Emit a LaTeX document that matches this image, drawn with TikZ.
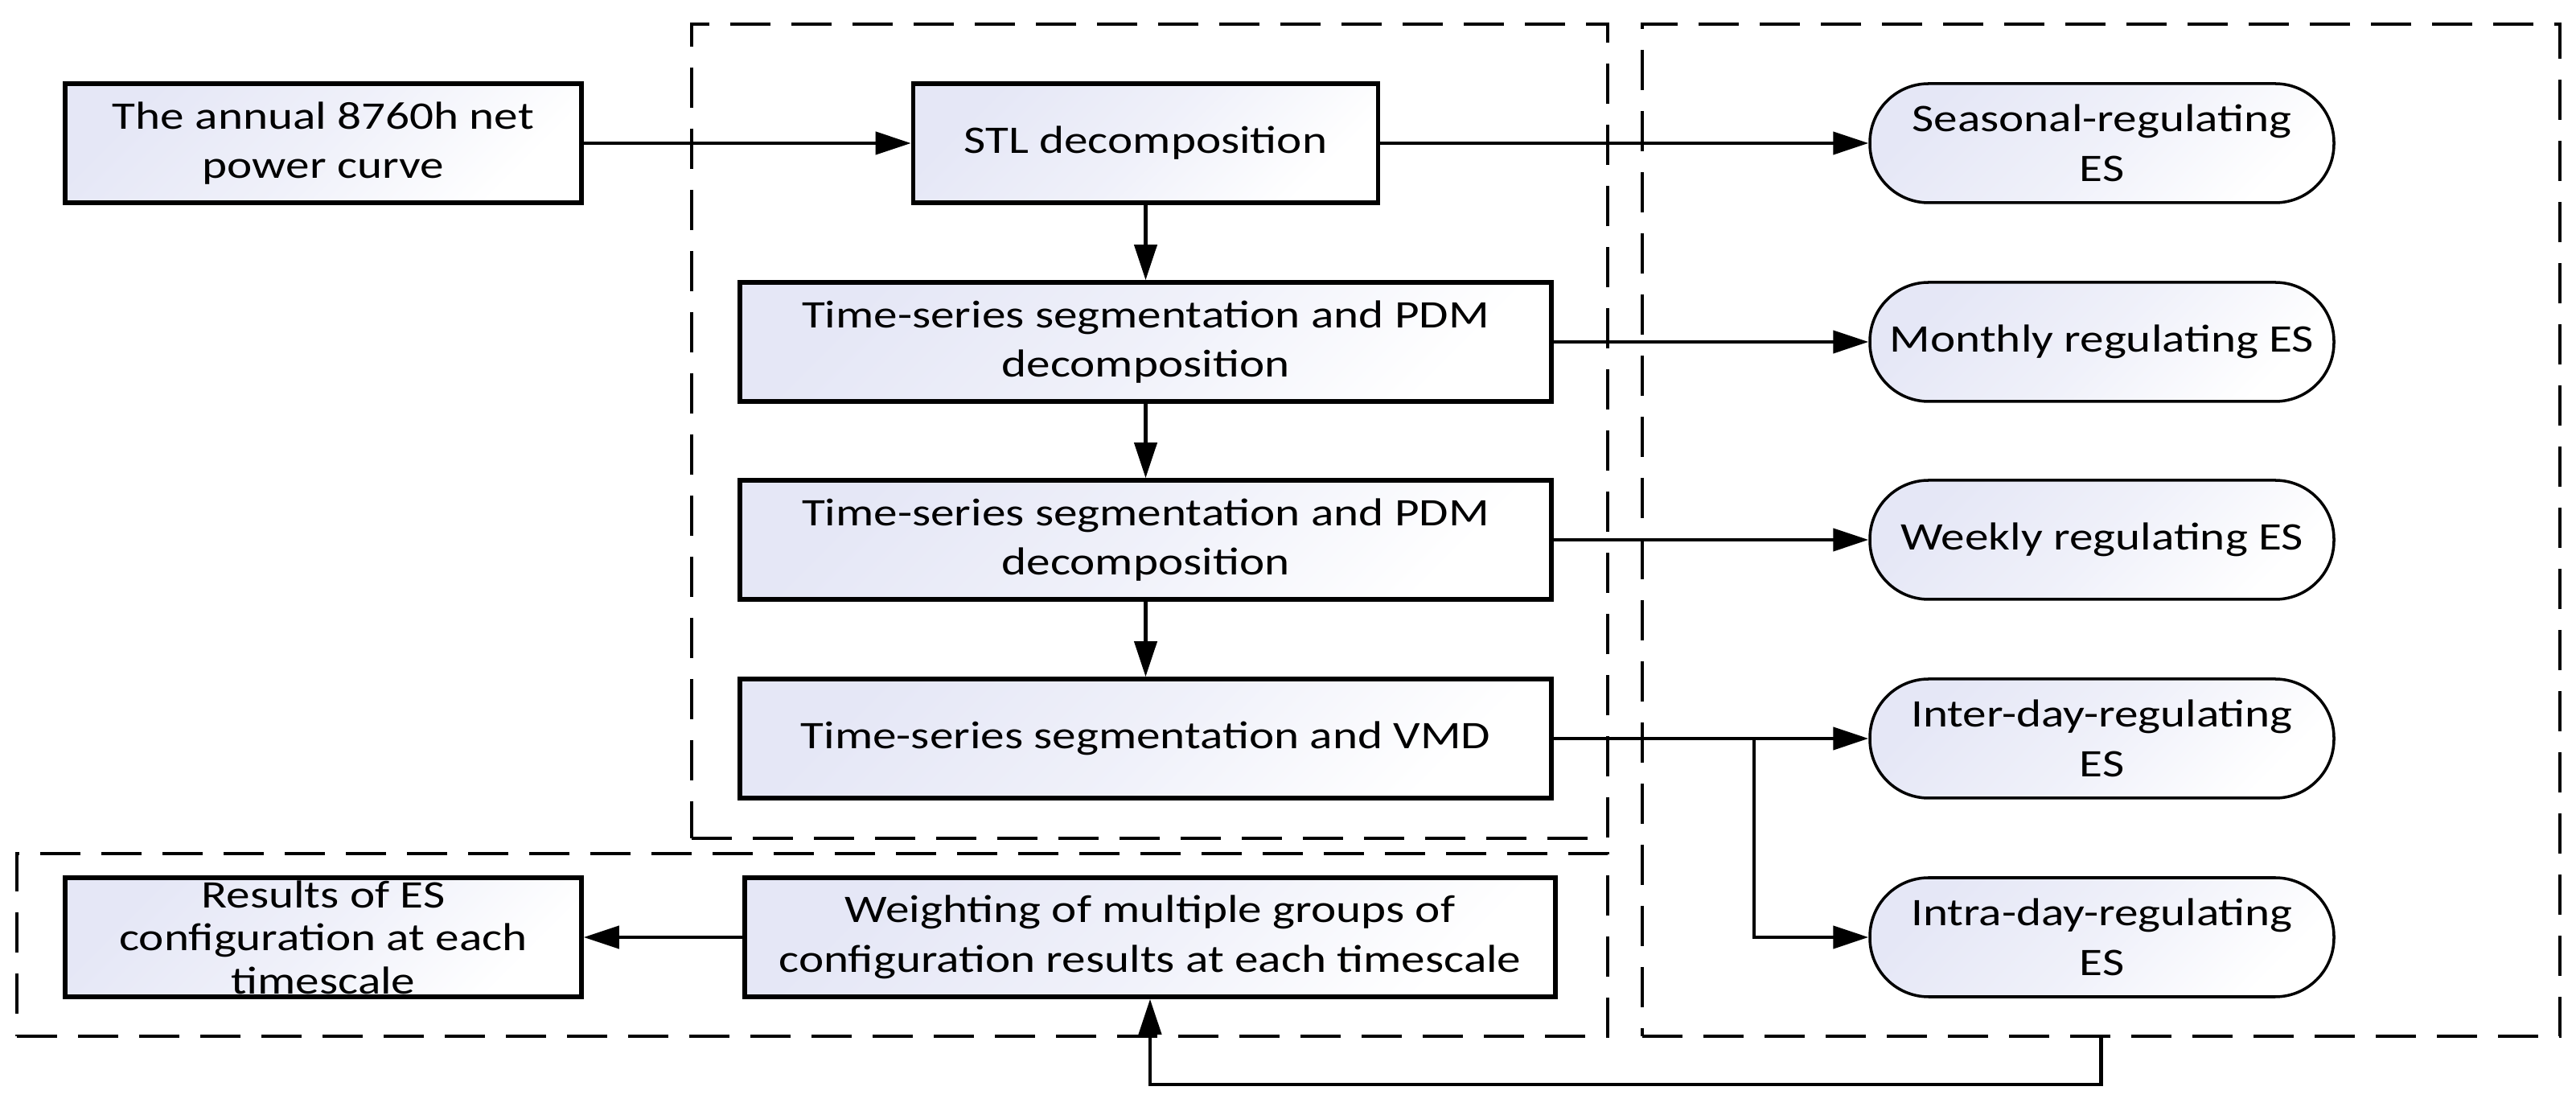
\documentclass[tikz,border=0pt]{standalone}
\usepackage{fontspec}
\setmainfont{Carlito}[FakeStretch=1.22]
\usepackage{tikz}
\usetikzlibrary{arrows.meta}
\definecolor{boxtint}{RGB}{229,231,246}
\tikzset{
  flowarrow/.style={-{Triangle[length=4.4mm, width=2.8mm]}, line width=1.2pt},
  stepbox/.style={draw, line width=1.6pt, top color=boxtint, bottom color=white, middle color=white!40!boxtint, shading angle=45, minimum height=1.48cm, inner sep=2pt, align=center},
  esnode/.style={draw, line width=1pt, rounded corners=0.73cm, top color=boxtint, bottom color=white, middle color=white!40!boxtint, shading angle=45, minimum width=5.77cm, minimum height=1.48cm, inner sep=2pt, align=center},
  groupframe/.style={draw, line width=1.2pt, dash pattern=on 0.5cm off 0.26cm, inner sep=0pt}
}

\begin{document}
\begin{tikzpicture}[every node/.style={font=\fontsize{13.8}{17.5}\selectfont}]
  \useasboundingbox (0,0) rectangle (32.03,13.71);
  \node[groupframe, minimum width=11.39cm, minimum height=10.12cm] (midframe) at (14.295,8.35) {};
  \node[groupframe, minimum width=11.41cm, minimum height=12.58cm] (esframe) at (26.125,7.12) {};
  \node[groupframe, minimum width=19.78cm, minimum height=2.27cm] (lowframe) at (10.10,1.965) {};
  \node[stepbox, minimum width=6.42cm] (netcurve) at (4.02,11.93) {The annual 8760h net\\power curve};
  \node[stepbox, minimum width=5.78cm] (stl) at (14.245,11.93) {STL decomposition};
  \node[stepbox, minimum width=10.09cm] (pdmmonth) at (14.245,9.46) {Time-series segmentation and PDM\\decomposition};
  \node[stepbox, minimum width=10.09cm] (pdmweek) at (14.245,7.00) {Time-series segmentation and PDM\\decomposition};
  \node[stepbox, minimum width=10.09cm] (vmd) at (14.245,4.53) {Time-series segmentation and VMD};
  \node[stepbox, minimum width=10.08cm] (weigh) at (14.30,2.06) {Weighting of multiple groups of\\configuration results at each timescale};
  \node[stepbox, minimum width=6.42cm, inner ysep=0pt, font=\fontsize{13.8}{15.2}\selectfont] (results) at (4.02,2.06) {Results of ES\\configuration at each\\timescale};
  \node[esnode] (seasonal) at (26.135,11.93) {Seasonal-regulating\\ES};
  \node[esnode] (monthly) at (26.135,9.46) {Monthly regulating ES};
  \node[esnode] (weekly) at (26.135,7.00) {Weekly regulating ES};
  \node[esnode] (interday) at (26.135,4.53) {Inter-day-regulating\\ES};
  \node[esnode] (intraday) at (26.135,2.06) {Intra-day-regulating\\ES};
  \coordinate (split) at (21.81,4.53);
  \draw[flowarrow] (netcurve) -- (stl);
  \draw[flowarrow] (stl) -- (pdmmonth);
  \draw[flowarrow] (pdmmonth) -- (pdmweek);
  \draw[flowarrow] (pdmweek) -- (vmd);
  \draw[flowarrow] (stl) -- (seasonal);
  \draw[flowarrow] (pdmmonth) -- (monthly);
  \draw[flowarrow] (pdmweek) -- (weekly);
  \draw[flowarrow] (vmd) -- (interday);
  \draw[flowarrow] (split) |- (intraday);
  \draw[flowarrow] (weigh) -- (results);
  \draw[flowarrow] (esframe.south) -- ++(0,-0.58) -| (weigh.south);
\end{tikzpicture}
\end{document}
